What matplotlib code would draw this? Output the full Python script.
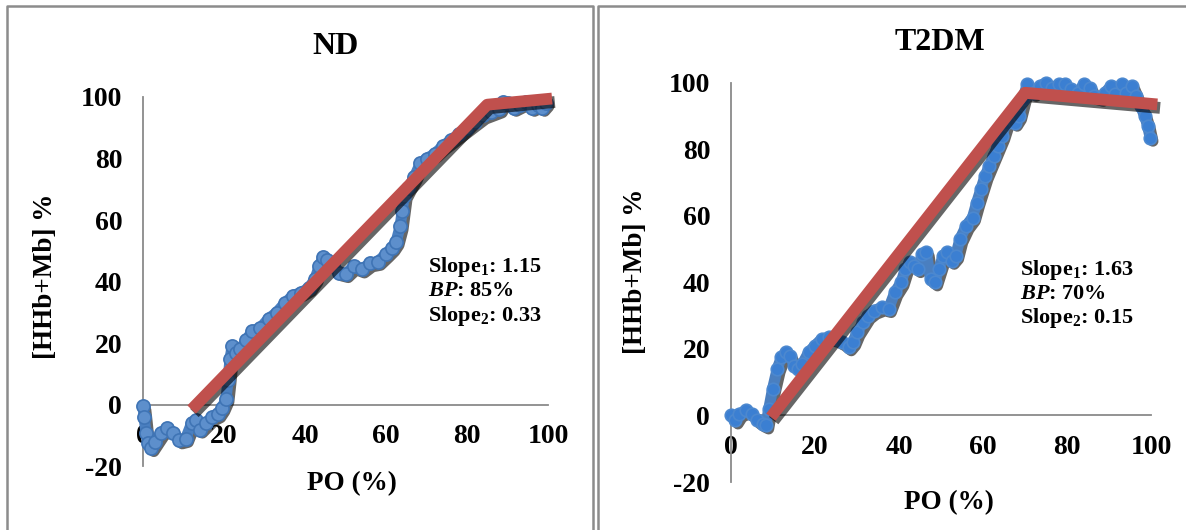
import matplotlib
matplotlib.use("Agg")
import matplotlib.pyplot as plt
import matplotlib.patheffects as pe
from matplotlib.lines import Line2D

plt.rcParams['font.family'] = ['Liberation Serif', 'DejaVu Serif']
plt.rcParams['font.weight'] = 'bold'
plt.rcParams['axes.unicode_minus'] = False
plt.rcParams['mathtext.fontset'] = 'custom'
plt.rcParams['mathtext.rm'] = 'Liberation Serif:bold'
plt.rcParams['mathtext.bf'] = 'Liberation Serif:bold'
plt.rcParams['mathtext.it'] = 'Liberation Serif:italic:bold'

# ---- ND: deoxygenation profile vs power output ----
nd_po = [0, 0.3, 0.7, 1.2, 2, 3, 4.5, 6, 7.5, 9, 10.5, 12, 13, 14, 15.5, 17,
         18.5, 19.5, 20.5, 21, 21.5, 22, 23, 24, 25.5, 27, 29, 31, 33, 35, 37,
         39, 41, 42.5, 43.5, 44.5, 45.5, 47, 48.5, 50, 52, 54, 56, 58, 60,
         61.5, 62.5, 63.5, 64, 64.5, 65.5, 67, 68.5, 70, 72, 74, 76, 78, 80,
         82, 84, 86, 88, 89, 90, 91.5, 93, 94.5, 96, 97.5, 98.5, 99.5]
nd_hhb = [-0.5, -4, -9, -12.5, -14, -12, -9, -7.5, -9, -11.5, -11, -6, -5, -8,
          -6, -4, -3, -1, 2, 8, 15, 19, 17, 18, 21, 24, 25, 28, 30, 33, 35.5,
          36.5, 38, 41, 45, 48, 47, 45, 43, 42.5, 45, 44, 46, 46.5, 49,
          51, 53, 58, 63, 68, 70.5, 74, 78.5, 80, 81.5, 84, 86, 88, 90,
          92, 94, 95, 96, 98.5, 98, 96.5, 97.5, 98.5, 96.5, 97.5, 96.5, 98]
nd_fit_po = [12, 85, 101]
nd_fit_hhb = [-1.5, 97.5, 99.5]
nd_notes = [r'Slope$_{1}$: 1.15', r'$\mathit{BP}$: 85%', r'Slope$_{2}$: 0.33']

# ---- T2DM ----
t2_po = [0, 1, 2, 3.5, 5, 6.3, 7.5, 8.3, 9, 9.9, 11, 12, 13, 14, 15, 16, 17,
         18.5, 20, 21.6, 23.4, 25, 26.5, 28, 29, 30, 31.5, 32.5, 34, 36, 37.5,
         39, 40.5, 41.5, 42.5, 43.5, 44.5, 45.5, 46.5, 47.5, 48.5, 49.5, 50.5,
         51.5, 52.5, 53.5, 54.5, 56, 57.5, 58.5, 59.5, 60.5, 61.5, 62.5, 63.5,
         64.5, 65.5, 66.5, 67.5, 68.5, 69.5, 70.5, 72, 73.5, 75, 76.5, 78,
         79.5, 81, 82.5, 84, 85.5, 86.5, 88, 89, 90.5, 91.5, 93, 94, 95.5,
         96.5, 97.5, 98.5, 99.2, 99.8]
t2_hhb = [0, -1.5, 0.5, 1.5, 0.5, -1.5, -2.5, -3, 2, 8, 14, 17.5, 19, 18, 15,
          14, 15.5, 19, 21, 23, 23.5, 23, 22, 20.5, 22, 25, 28, 30, 31.5, 32.5,
          32, 37, 40, 44, 46, 45, 44, 48.5, 49, 41, 40, 44, 48, 49, 46.5, 48,
          53, 57, 59.5, 64, 68, 72, 75, 78, 81, 84, 88, 89.5, 88, 90, 95, 99.5,
          97, 99, 100, 98.5, 99.5, 99.5, 98, 97, 99.5, 98.5, 96, 95.5, 97, 99,
          96.5, 99.5, 97, 99, 96, 93, 90, 87, 83.5]
t2_fit_po = [9.5, 70, 101.5]
t2_fit_hhb = [-0.5, 97, 93.5]
t2_notes = [r'Slope$_{1}$: 1.63', r'$\mathit{BP}$: 70%', r'Slope$_{2}$: 0.15']

x_ticks = [0, 20, 40, 60, 80, 100]
y_ticks = [-20, 0, 20, 40, 60, 80, 100]

W, H = 1186, 530
fig = plt.figure(figsize=(W / 100, H / 100), dpi=100)
fig.patch.set_facecolor('white')

BLUE = '#4a7fc0'
RED = '#c0504d'
GREY = '#8c8c8c'


def px(x, y):
    return x / W, 1 - y / H


# panel frames
for xs, ys in [([7, 7, 593, 593], [H + 5, 6, 6, H + 5]),
               ([598, 598, W + 5], [H + 5, 6, 6])]:
    fx = [x / W for x in xs]
    fy = [1 - y / H for y in ys]
    fig.add_artist(Line2D(fx, fy, color=GREY, lw=1.8, transform=fig.transFigure))


def panel(rect, po, hhb, fit_po, fit_hhb, notes, title, title_xy, xlab_xy,
          ylab_xy, note_xy, note_dy, hollow):
    ax = fig.add_axes(rect)
    ax.set_xlim(0, 100)
    ax.set_ylim(-20, 100)
    for s in ['top', 'right']:
        ax.spines[s].set_visible(False)
    ax.spines['bottom'].set_position(('data', 0))
    for s in ['left', 'bottom']:
        ax.spines[s].set_color('#8a8a8a')
        ax.spines[s].set_linewidth(1.3)
    ax.set_xticks(x_ticks)
    ax.set_yticks(y_ticks)
    ax.tick_params(length=0, labelsize=20)
    ax.tick_params(axis='x', pad=14)
    ax.tick_params(axis='y', pad=15)
    for lab in ax.get_xticklabels() + ax.get_yticklabels():
        lab.set_fontweight('bold')

    shadow = [pe.SimpleLineShadow(offset=(2, -2.5), shadow_color='black', alpha=0.6),
              pe.Normal()]
    # measured series: dense chain of circular markers
    ax.plot(po, hhb, color=BLUE, lw=8, solid_capstyle='round',
            solid_joinstyle='round', clip_on=False, zorder=3, path_effects=shadow)
    if hollow:
        ax.plot(po, hhb, ls='none', marker='o', ms=9.5, mfc='#5d8fcc',
                mec='#3f74b5', mew=1.2, clip_on=False, zorder=4)
    else:
        ax.plot(po, hhb, ls='none', marker='o', ms=9, mfc='#3b7fd2',
                mec='#4c88cf', mew=1.2, clip_on=False, zorder=4)
    # two-segment fit
    ax.plot(fit_po, fit_hhb, color=RED, lw=8.5, solid_capstyle='butt',
            clip_on=False, zorder=5,
            path_effects=[pe.SimpleLineShadow(offset=(2, -2.5), shadow_color='black',
                                              alpha=0.6), pe.Normal()])

    fig.text(*px(*title_xy), title, ha='center', va='center', fontsize=23,
             fontweight='bold')
    fig.text(*px(*xlab_xy), 'PO (%)', ha='center', va='center', fontsize=19.5,
             fontweight='bold')
    fig.text(*px(*ylab_xy), '[HHb+Mb] %', ha='center', va='center', fontsize=19.5,
             fontweight='bold', rotation=90)
    for i, t in enumerate(notes):
        fig.text(*px(note_xy[0], note_xy[1] + i * note_dy), t, ha='left',
                 va='center', fontsize=16, fontweight='bold')
    return ax


panel([143 / W, 1 - 466.5 / H, 405 / W, 369.5 / H], nd_po, nd_hhb, nd_fit_po,
      nd_fit_hhb, nd_notes, 'ND', (336, 47), (352, 484), (46, 276), (428, 267),
      24.5, True)
panel([731 / W, 1 - 482 / H, 420 / W, 399.2 / H], t2_po, t2_hhb, t2_fit_po,
      t2_fit_hhb, t2_notes, 'T2DM', (940, 42), (949, 503), (636, 271),
      (1020, 269.5), 24.5, False)

fig.savefig('out.png', dpi=100, facecolor='white')
